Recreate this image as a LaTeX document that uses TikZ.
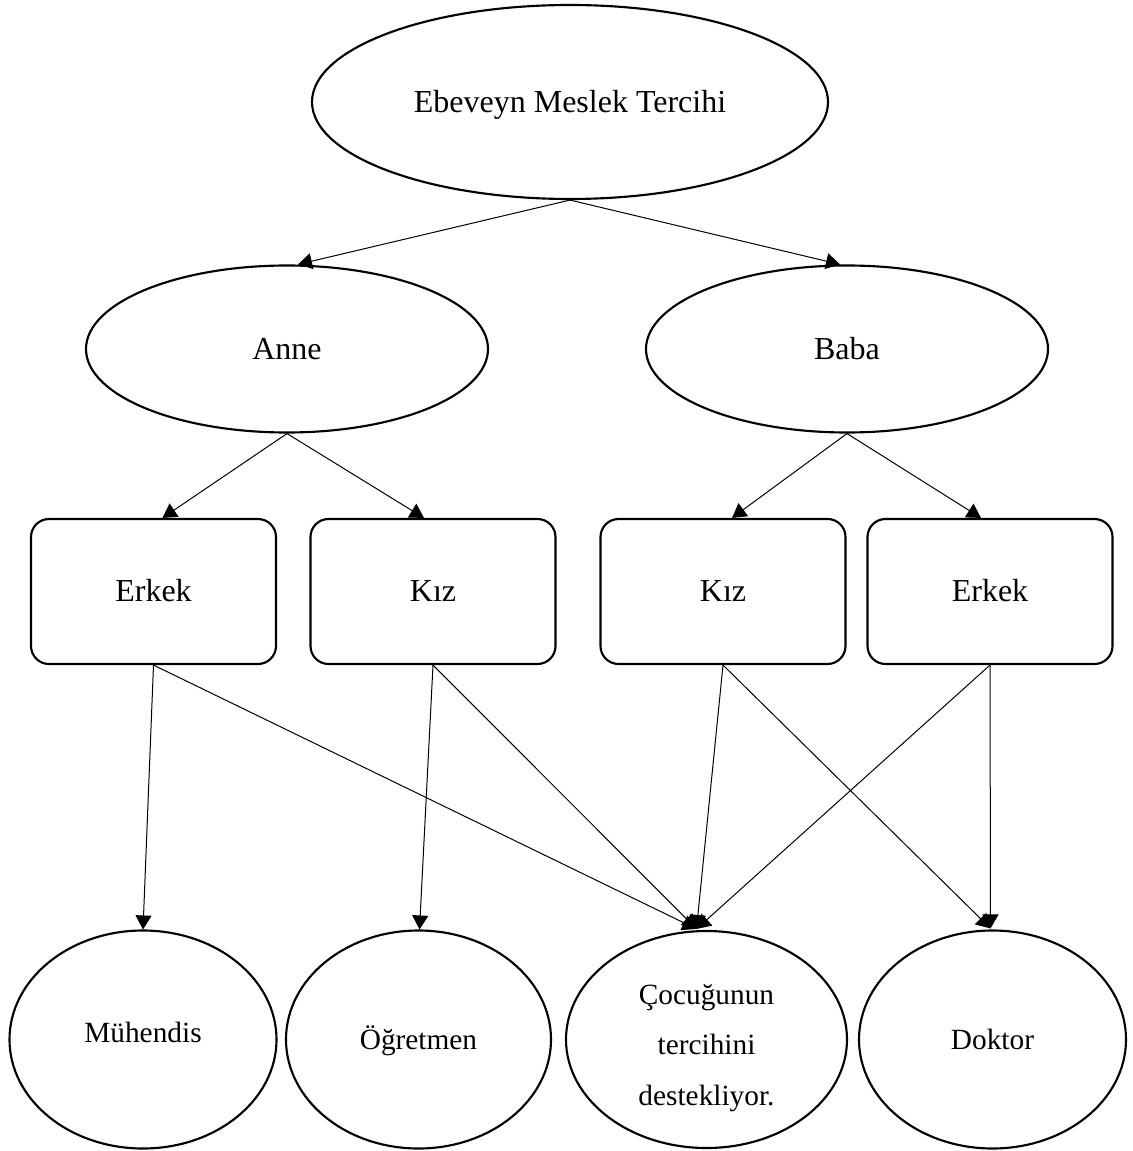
\documentclass[tikz,border=0pt]{standalone}
\usepackage{fontspec}
\setmainfont{Liberation Serif}
\usetikzlibrary{shapes.geometric,arrows.meta,calc}
\begin{document}
\begin{tikzpicture}[x=0.75pt,y=-0.75pt,
  shapeline/.style={draw=black, line width=1.6pt, inner sep=0pt, fill=white},
  upfont/.style={font=\fontsize{24}{28}\selectfont, text height=15.7pt, text depth=0pt},
  lowfont/.style={font=\fontsize{22}{26}\selectfont, text height=14.4pt, text depth=0pt},
  topell/.style={shapeline, ellipse, upfont, minimum width=387pt, minimum height=145.5pt},
  midell/.style={shapeline, ellipse, upfont, minimum width=301.5pt, minimum height=125.25pt},
  kidbox/.style={shapeline, rectangle, rounded corners=13.5pt, upfont, minimum width=183.75pt, minimum height=108.75pt},
  lowell/.style={shapeline, ellipse, lowfont, minimum height=163.5pt},
  conn/.style={draw=black, line width=0.75pt, -{Triangle[length=10.5pt,width=12pt]}}
]
\useasboundingbox (0,0) rectangle (1132,1151);

% top
\node[topell] (top) at (570,102) {Ebeveyn Meslek Tercihi};
% parents
\node[midell] (anne) at (287,349) {Anne};
\node[midell] (baba) at (847,349) {Baba};
% children
\node[kidbox] (e1) at (153.5,591.5) {Erkek};
\node[kidbox] (k1) at (433,591.5) {Kız};
\node[kidbox] (k2) at (723,591.5) {Kız};
\node[kidbox] (e2) at (990,591.5) {Erkek};
% professions
\node[lowell, minimum width=200.25pt] (muh) at (143,1039.5) {\raisebox{5.25pt}{Mühendis}};
\node[lowell, minimum width=198.75pt] (ogr) at (418.5,1039.5) {Öğretmen};
\node[shapeline, ellipse, minimum width=210.75pt, minimum height=162.75pt] (coc) at (706.5,1039.5) {};
\node[inner sep=0pt, align=center, font=\fontsize{22}{38}\selectfont] (coctext) at (706.5,1048)
  {Çocuğunun\\tercihini\\destekliyor.};
\node[lowell, minimum width=200.25pt] (dok) at (992.5,1039.5) {Doktor};

% connectors
\draw[conn] (top.south) -- ($(anne.north)+(11,0)$);
\draw[conn] (top.south) -- ($(baba.north)+(-7,0)$);
\draw[conn] (anne.south) -- ($(e1.north)+(9,0)$);
\draw[conn] (anne.south) -- ($(k1.north)+(-9,0)$);
\draw[conn] (baba.south) -- ($(k2.north)+(9,0)$);
\draw[conn] (baba.south) -- ($(e2.north)+(-9,0)$);
\draw[conn] (e1.south) -- (muh.north);
\draw[conn] (e1.south) -- ($(coc.north)+(-10,-1)$);
\draw[conn] (k1.south) -- ($(ogr.north)+(1,0)$);
\draw[conn] (k1.south) -- ($(coc.north)+(-10,-1)$);
\draw[conn] (k2.south) -- ($(coc.north)+(-10,-1)$);
\draw[conn] (k2.south) -- ($(dok.north)+(-2,-1)$);
\draw[conn] (e2.south) -- ($(coc.north)+(-10,-1)$);
\draw[conn] (e2.south) -- ($(dok.north)+(-2,-1)$);
\end{tikzpicture}
\end{document}
